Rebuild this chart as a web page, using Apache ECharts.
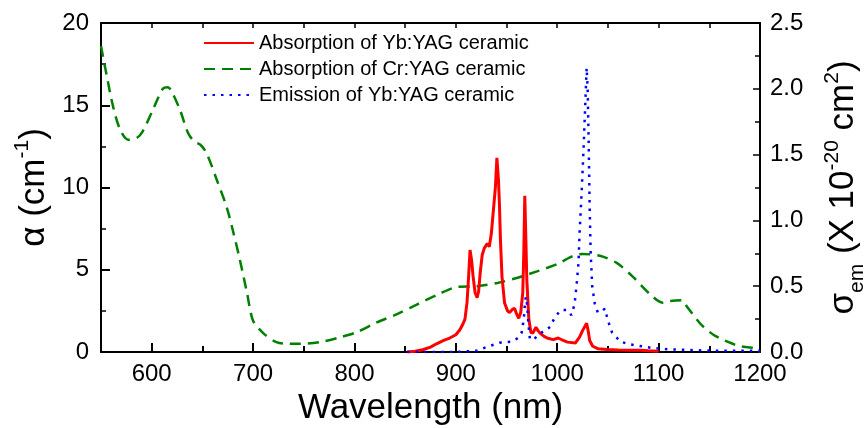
<!DOCTYPE html>
<html>
<head>
<meta charset="utf-8">
<script src="https://cdn.jsdelivr.net/npm/echarts@6/dist/echarts.min.js"></script>
<style>
  html, body { margin: 0; padding: 0; background: #fff; }
  #chart { width: 865px; height: 428px; }
</style>
</head>
<body>
<div id="chart"></div>
<script>
// Cr:YAG absorption (left axis, cm-1)
const crWavelength = [550, 555, 562, 569, 577, 585, 591, 601, 611, 616, 620, 628, 636, 642, 648, 654, 664, 674, 680, 687, 694, 700, 710, 723, 735, 746, 766, 786, 802, 822, 842, 862, 881, 901, 921, 941, 960, 980, 1000, 1016, 1025, 1042, 1059, 1075, 1091, 1104, 1111, 1123, 1128, 1138, 1143, 1154, 1165, 1173, 1180, 1193, 1200]
const crAbs = [18.6, 17.0, 14.9, 13.5, 12.9, 13.0, 13.4, 14.7, 16.0, 16.1, 15.8, 14.7, 13.3, 12.8, 12.6, 12.1, 10.5, 8.8, 7.4, 5.6, 3.6, 1.9, 1.15, 0.6, 0.5, 0.5, 0.6, 0.9, 1.2, 1.8, 2.3, 2.9, 3.45, 3.95, 4.0, 4.2, 4.5, 4.9, 5.35, 5.85, 5.95, 5.85, 5.4, 4.55, 3.55, 3.0, 3.1, 3.15, 2.75, 1.95, 1.6, 1.05, 0.7, 0.5, 0.35, 0.25, 0.0]

// Yb:YAG absorption (left axis, cm-1)
const ybAbsWavelength = [852, 860, 868, 875, 881, 888, 894, 900, 904, 907, 909, 911, 912.5, 914, 915.5, 917, 919, 921, 922.5, 924, 926, 928, 931, 933, 935, 937, 939, 940.5, 942, 943, 944, 945.5, 948, 951, 953, 956, 958, 960, 962, 964, 966, 967, 968, 969, 970, 972, 974, 976, 979, 981, 983, 987, 990, 996, 1001, 1006, 1010, 1018, 1022, 1025, 1029, 1030.5, 1032, 1035, 1040, 1049, 1060, 1070, 1082, 1090, 1100]
const ybAbs = [0, 0.05, 0.15, 0.3, 0.5, 0.7, 0.85, 1.05, 1.35, 1.7, 2.0, 3.0, 4.5, 6.2, 5.6, 4.6, 3.6, 3.3, 3.7, 4.8, 5.9, 6.3, 6.6, 6.4, 7.2, 8.6, 10.0, 11.8, 10.5, 9.0, 6.8, 4.6, 3.0, 2.5, 2.4, 2.6, 2.65, 2.3, 2.05, 2.4, 3.6, 6.0, 9.5, 7.0, 4.4, 2.0, 1.2, 1.15, 1.5, 1.3, 1.15, 0.95, 0.85, 0.75, 0.85, 0.7, 0.6, 0.55, 0.9, 1.3, 1.75, 1.3, 0.7, 0.35, 0.2, 0.15, 0.12, 0.1, 0.1, 0.07, 0.05]

// Yb:YAG emission cross section (right axis, x 10^-20 cm2)
const ybEmWavelength = [852, 875, 900, 921, 931, 943, 956, 962, 965, 967, 968.5, 969.5, 970.5, 971.5, 973, 976, 983, 993, 998, 1004, 1010, 1014, 1017, 1019, 1021, 1022, 1024, 1026, 1027.5, 1029, 1030, 1031, 1032, 1033, 1034.5, 1037, 1040, 1044, 1047, 1050, 1054, 1062, 1070, 1078, 1094, 1110, 1150, 1200]
const ybEm = [0, 0, 0, 0.01, 0.04, 0.07, 0.08, 0.11, 0.15, 0.25, 0.4, 0.42, 0.34, 0.22, 0.1, 0.09, 0.14, 0.19, 0.27, 0.32, 0.32, 0.28, 0.36, 0.5, 0.68, 0.9, 1.2, 1.55, 1.85, 2.16, 2.0, 1.6, 1.1, 0.75, 0.5, 0.37, 0.3, 0.31, 0.33, 0.24, 0.15, 0.08, 0.06, 0.05, 0.03, 0.02, 0.01, 0.01]

// ticks / labels
const xMajorTicks = [600, 700, 800, 900, 1000, 1100, 1200]
const xMinorTicks = [650, 750, 850, 950, 1050, 1150]
const seriesNames = ['Absorption of Yb:YAG ceramic', 'Absorption of Cr:YAG ceramic', 'Emission of Yb:YAG ceramic']

const FONT = 'Liberation Sans, Arial, sans-serif'

const pairs = (xs, ys) => xs.map((x, i) => [x, ys[i]])

const chart = echarts.init(document.getElementById('chart'))

const axisLine = { show: true, onZero: false, lineStyle: { color: '#000', width: 2 } }

const option = {
  animation: false,
  backgroundColor: '#fff',
  grid: { left: 101, right: 105, top: 23, bottom: 76, containLabel: false, outerBoundsMode: 'none' },
  legend: {
    orient: 'vertical',
    left: 198,
    top: 28,
    itemWidth: 50,
    itemHeight: 14,
    itemGap: 6,
    itemStyle: { opacity: 0 },
    textStyle: { fontFamily: FONT, fontSize: 20, color: '#000' },
    data: seriesNames
  },
  xAxis: [
    {
      type: 'value',
      min: 550,
      max: 1200,
      position: 'bottom',
      name: 'Wavelength (nm)',
      nameLocation: 'middle',
      nameGap: 38,
      nameTextStyle: { fontFamily: FONT, fontSize: 35, color: '#000' },
      axisLine,
      axisTick: { show: true, inside: true, length: 9, customValues: xMajorTicks, lineStyle: { color: '#000', width: 2 } },
      axisLabel: { show: true, customValues: xMajorTicks, margin: 10, fontFamily: FONT, fontSize: 24, color: '#000', formatter: v => String(v) },
      splitLine: { show: false }
    },
    {
      // minor bottom ticks
      type: 'value',
      min: 550,
      max: 1200,
      position: 'bottom',
      axisLine: { show: false },
      axisTick: { show: true, inside: true, length: 6, customValues: xMinorTicks, lineStyle: { color: '#000', width: 2 } },
      axisLabel: { show: false },
      splitLine: { show: false }
    },
    {
      // top mirror axis
      type: 'value',
      min: 550,
      max: 1200,
      interval: 50,
      position: 'top',
      axisLine,
      axisTick: { show: true, inside: true, length: 5, lineStyle: { color: '#000', width: 1.5 } },
      axisLabel: { show: false },
      splitLine: { show: false }
    }
  ],
  yAxis: [
    {
      type: 'value',
      min: 0,
      max: 20,
      interval: 5,
      position: 'left',
      name: '{a|α (cm}{sup|-1}{a|)}',
      nameLocation: 'middle',
      nameGap: 45,
      nameTextStyle: {
        fontFamily: FONT,
        color: '#000',
        rich: {
          a: { fontFamily: FONT, fontSize: 35, lineHeight: 44, color: '#000' },
          sup: { fontFamily: FONT, fontSize: 21, lineHeight: 21, verticalAlign: 'top', color: '#000' }
        }
      },
      axisLine,
      axisTick: { show: true, inside: true, length: 9, lineStyle: { color: '#000', width: 2 } },
      minorTick: { show: true, splitNumber: 2, length: 5, lineStyle: { color: '#000', width: 1.5 } },
      axisLabel: { margin: 12, fontFamily: FONT, fontSize: 24, color: '#000' },
      splitLine: { show: false }
    },
    {
      type: 'value',
      min: 0,
      max: 2.5,
      interval: 0.5,
      position: 'right',
      name: '{a|σ}{sub|em}{a| (X 10}{sup|-20}{a| cm}{sup|2}{a|)}',
      nameLocation: 'middle',
      nameGap: 58,
      nameTextStyle: {
        fontFamily: FONT,
        color: '#000',
        rich: {
          a: { fontFamily: FONT, fontSize: 35, lineHeight: 50, color: '#000' },
          sup: { fontFamily: FONT, fontSize: 21, lineHeight: 21, verticalAlign: 'top', padding: [4, 0, 0, 0], color: '#000' },
          sub: { fontFamily: FONT, fontSize: 21, lineHeight: 21, verticalAlign: 'bottom', color: '#000' }
        }
      },
      axisLine,
      axisTick: { show: true, inside: true, length: 7, lineStyle: { color: '#000', width: 1.5 } },
      minorTick: { show: true, splitNumber: 2, length: 5, lineStyle: { color: '#000', width: 1.5 } },
      axisLabel: { margin: 10, fontFamily: FONT, fontSize: 24, color: '#000', formatter: v => v.toFixed(1) },
      splitLine: { show: false }
    }
  ],
  series: [
    {
      name: seriesNames[0],
      type: 'line',
      xAxisIndex: 0,
      yAxisIndex: 0,
      symbol: 'none',
      z: 4,
      lineStyle: { color: '#ff0000', width: 3 },
      itemStyle: { color: '#ff0000' },
      data: pairs(ybAbsWavelength, ybAbs)
    },
    {
      name: seriesNames[1],
      type: 'line',
      xAxisIndex: 0,
      yAxisIndex: 0,
      symbol: 'none',
      smooth: 0.3,
      z: 3,
      lineStyle: { color: '#008000', width: 2.5, type: [11, 7] },
      itemStyle: { color: '#008000' },
      data: pairs(crWavelength, crAbs)
    },
    {
      name: seriesNames[2],
      type: 'line',
      xAxisIndex: 0,
      yAxisIndex: 1,
      symbol: 'none',
      z: 5,
      lineStyle: { color: '#0000ff', width: 2.5, type: [2.5, 6] },
      itemStyle: { color: '#0000ff' },
      data: pairs(ybEmWavelength, ybEm)
    }
  ]
}

chart.setOption(option)
</script>
</body>
</html>
